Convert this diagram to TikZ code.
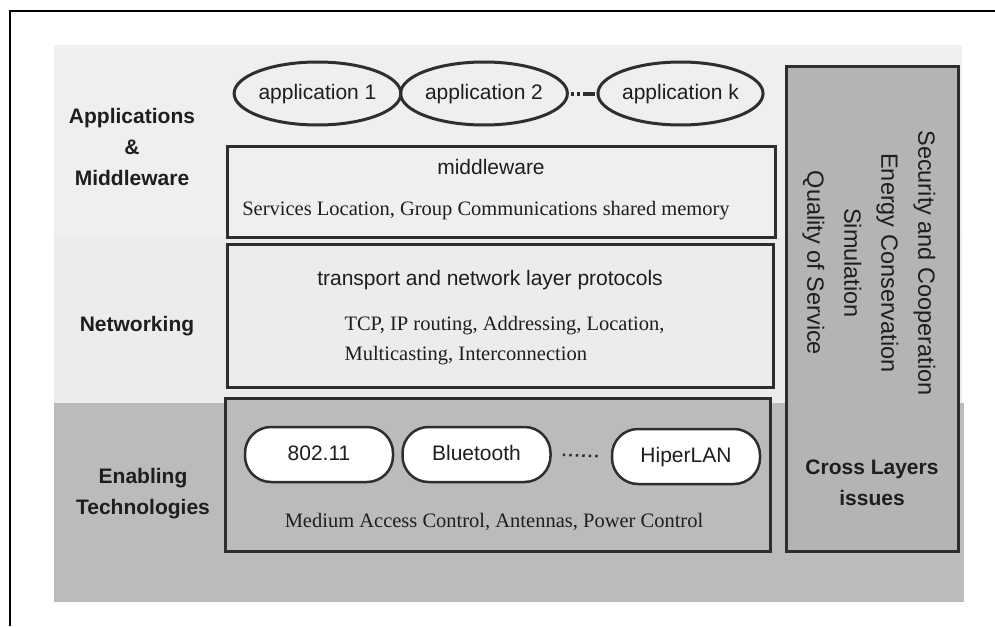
\documentclass[tikz,border=0pt]{standalone}
\usepackage{fontspec}
\setmainfont{Liberation Serif}
\setsansfont{Liberation Sans}
\usetikzlibrary{shapes.geometric}
\definecolor{lightbg}{HTML}{EFEFEF}
\definecolor{netbg}{HTML}{ECECEC}
\definecolor{darkbg}{HTML}{BBBBBB}
\definecolor{crossfill}{HTML}{B4B4B4}
\definecolor{edge}{HTML}{2E2E2E}
\definecolor{ink}{HTML}{1E1E1E}
\tikzset{
  sans/.style={font=\sffamily\fontsize{21}{30}\selectfont, text=ink},
  sansbold/.style={font=\sffamily\bfseries\fontsize{21}{31}\selectfont, text=ink, align=center},
  serif/.style={font=\rmfamily\fontsize{20.5}{30}\selectfont, text=ink},
  layerbox/.style={draw=edge, line width=3pt, inner sep=0pt},
  appell/.style={ellipse, draw=edge, line width=3pt, inner sep=0pt, minimum height=63pt, sans, text height=15pt, text depth=4pt},
  pill/.style={draw=edge, line width=2.5pt, fill=white, rounded corners=26pt, inner sep=0pt, minimum width=148pt, minimum height=55pt, sans, text height=15pt, text depth=4pt},
}
\begin{document}
\begin{tikzpicture}[x=1pt,y=-1pt]
\useasboundingbox (0,0) rectangle (995,626);
% outer frame (partial)
\draw[line width=2.5pt, black] (995,11) -- (10,11) -- (10,626);
% layer backgrounds
\fill[lightbg] (54,45) rectangle (962,237);
\fill[netbg] (54,237) rectangle (962,403);
\fill[darkbg] (54,403) rectangle (964,602);
% left labels
\node[sansbold] (lam) at (132,147) {Applications\\\&\\Middleware};
\node[sansbold] (lnet) at (137,326) {Networking};
\node[sansbold] (lenab) at (143,494) {Enabling\\Technologies};
% applications
\node[appell, minimum width=161pt] (app1) at (317.5,93.5) {application 1};
\node[appell, minimum width=164pt] (app2) at (484,93.5) {application 2};
\node[appell, minimum width=163pt] (appk) at (680.5,93.5) {application k};
\draw[edge, line width=4pt, shorten <=2pt, shorten >=1pt, dash pattern=on 3pt off 3pt on 3pt off 3pt on 20pt off 0pt] (app2.east) -- (appk.west);
% middleware
\node[layerbox, minimum width=548pt, minimum height=91pt] (mw) at (501,191.5) {};
\node[sans] (mwt) at (491,167) {middleware};
\node[serif] (mws) at (486,211) {Services Location, Group Communications shared memory};
% networking
\node[layerbox, minimum width=546pt, minimum height=143pt] (net) at (500,315.5) {};
\node[sans] (nett) at (490,280) {transport and network layer protocols};
\node[serif, align=left, anchor=west] (nets) at (341,341) {TCP, IP routing, Addressing, Location,\\Multicasting, Interconnection};
% enabling technologies
\node[layerbox, fill=darkbg, minimum width=545pt, minimum height=153pt] (enab) at (497.5,474.5) {};
\node[pill] (wifi) at (319,454.5) {802.11};
\node[pill] (bt) at (476.5,454.5) {Bluetooth};
\node[pill] (hip) at (686,456.5) {HiperLAN};
\draw[edge, line width=2.5pt, shorten <=11pt, shorten >=10pt, dash pattern=on 2.5pt off 4pt] (bt.east) -- (hip.west);
\node[serif] (mac) at (494,522) {Medium Access Control, Antennas, Power Control};
% cross layers
\node[layerbox, fill=crossfill, minimum width=172pt, minimum height=485pt] (cross) at (872,308.5) {};
\node[sans, rotate=-90, align=center, font=\sffamily\fontsize{23.5}{37}\selectfont] (crt) at (869,263) {Security and Cooperation\\Energy Conservation\\Simulation\\Quality of Service};
\node[sansbold] (crl) at (872,483) {Cross Layers\\issues};
\end{tikzpicture}
\end{document}
